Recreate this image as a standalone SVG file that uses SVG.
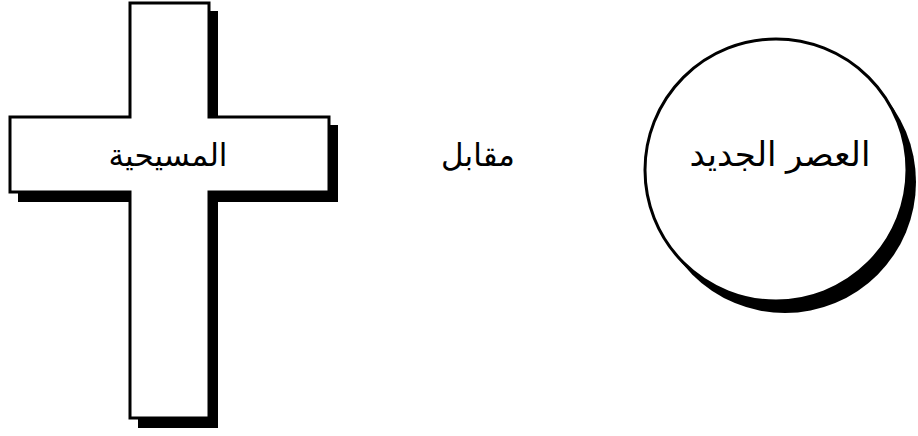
<svg xmlns="http://www.w3.org/2000/svg" width="918" height="436" viewBox="0 0 918 436">
<style>
.shadow{fill:#000}
.shape{fill:#fff;stroke:#000;stroke-width:3}
.label{font-family:"Liberation Sans","DejaVu Sans",sans-serif;font-size:31px;fill:#000;text-anchor:middle}
</style>
<rect width="918" height="436" fill="#fff"/>
<g id="cross">
<polygon class="shadow" points="138,11 218,11 218,125 338,125 338,202 218,202 218,428 138,428 138,202 18,202 18,125 138,125"/>
<polygon class="shape" points="130,3 209,3 209,117 329,117 329,192 209,192 209,418 130,418 130,192 10,192 10,117 130,117"/>
<text class="label" x="168" y="166">المسيحية</text>
</g>
<g id="versus">
<text class="label" x="478" y="166">مقابل</text>
</g>
<g id="circle">
<ellipse class="shadow" cx="785" cy="182" rx="131" ry="131"/>
<ellipse class="shape" cx="776" cy="170" rx="131" ry="131"/>
<text class="label" x="780" y="166" style="font-size:34px">العصر الجديد</text>
</g>
<g id="connectors"></g>
</svg>
